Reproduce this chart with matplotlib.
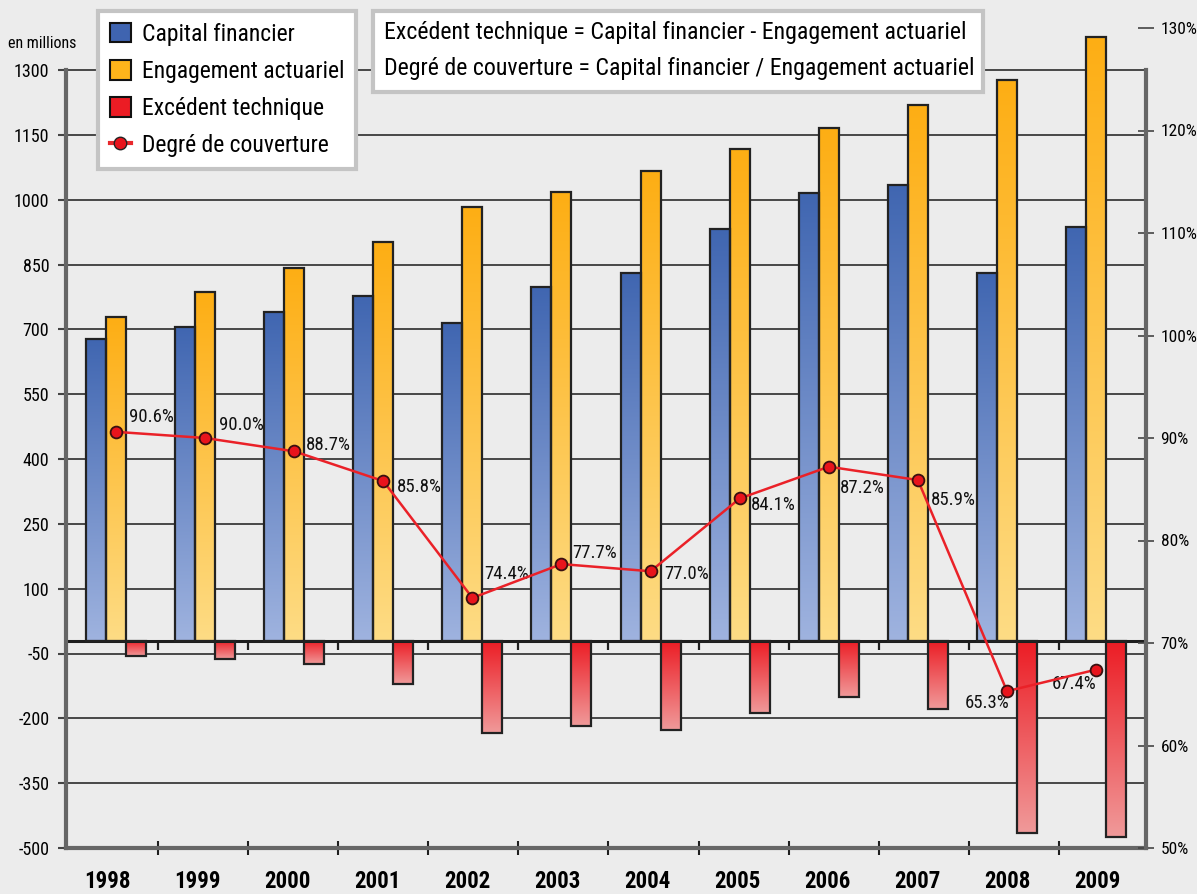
import numpy as np
import matplotlib.pyplot as plt
from matplotlib.patches import Patch, Rectangle
from matplotlib.lines import Line2D
from matplotlib.colors import LinearSegmentedColormap

plt.rcParams['font.family'] = ['Roboto Condensed', 'Liberation Sans Narrow',
                               'DejaVu Sans Condensed', 'Roboto', 'DejaVu Sans']

# data (en millions, on the printed left scale)
years = ['1998', '1999', '2000', '2001', '2002', '2003',
         '2004', '2005', '2006', '2007', '2008', '2009']
capital = [678, 705, 740, 777, 715, 798, 830, 932, 1015, 1034, 830, 937]
engagement = [728, 786, 842, 902, 983, 1018, 1066, 1117, 1166, 1219, 1277, 1376]
excedent = [-56, -63, -74, -121, -234, -218, -227, -188, -151, -178, -465, -475]
couverture = [90.6, 90.0, 88.7, 85.8, 74.4, 77.7, 77.0, 84.1, 87.2, 85.9, 65.3, 67.4]
left_ticks = list(range(-500, 1301, 150))
right_ticks = list(range(50, 131, 10))

BASE = -20          # category axis crosses the value axis here
BG = '#ececec'

# label offsets in pixels (dx, dy) and alignment for the percentages
label_offsets = [(13, 15), (14, 13), (12, 6), (14, -6), (12, 24), (11, 11),
                 (14, -3), (11, -7), (11, -21), (13, -20), (2, -12), (0, -14)]
label_align = ['left'] * 10 + ['right'] * 2


def gradient_bars(ax, bars, top_color, bottom_color):
    """Fill every bar with a vertical gradient clipped to the bar."""
    cmap = LinearSegmentedColormap.from_list('g', [bottom_color, top_color])
    grad = np.linspace(0, 1, 256).reshape(-1, 1)
    for b in bars:
        x0, y0 = b.get_xy()
        w, h = b.get_width(), b.get_height()
        lo, hi = min(y0, y0 + h), max(y0, y0 + h)
        im = ax.imshow(grad, cmap=cmap, aspect='auto', origin='lower',
                       extent=(x0, x0 + w, lo, hi), zorder=2,
                       interpolation='bilinear')
        im.set_clip_path(b)


W, H = 1197, 894
fig = plt.figure(figsize=(W / 100, H / 100), dpi=100, facecolor=BG)
ax = fig.add_axes([66 / W, 1 - 848 / H, (1146 - 66) / W, (848 - 28) / H])
ax.set_facecolor(BG)

x = np.arange(len(years))
bw = 0.2245
edge = dict(facecolor='none', edgecolor='#222222', linewidth=1.6, zorder=3)

b1 = ax.bar(x - bw, np.array(capital) - BASE, bw, bottom=BASE, **edge)
b2 = ax.bar(x, np.array(engagement) - BASE, bw, bottom=BASE, **edge)
b3 = ax.bar(x + bw, np.array(excedent) - BASE, bw, bottom=BASE, **edge)
gradient_bars(ax, b1, '#4066b1', '#9fb3df')
gradient_bars(ax, b2, '#fdae14', '#fedc85')
gradient_bars(ax, b3, '#ec1c24', '#f09a9a')

# category boundaries (slightly wider spacing than the bar groups)
bounds = 0.471 + np.arange(len(years) - 1) * 1.0112
label_pos = x * 1.0101 - 0.101

# category axis line through the chart
ax.axhline(BASE, color='#1e1e1e', lw=2.2, zorder=2.5)
ax.vlines(bounds, BASE - 23, BASE, color='#1e1e1e', lw=1.6, zorder=2.5)

top_val = 1300 + 42 / (778 / 1800)
ax.set_ylim(-500, top_val)
ax.set_xlim(-0.561, 11.56)

ax.set_yticks(left_ticks)
ax.set_yticklabels([str(t) for t in left_ticks])
ax.yaxis.grid(True, color='#2b2b2b', lw=1.2)
ax.set_axisbelow(True)
ax.tick_params(axis='y', direction='out', length=6, width=1.5,
               color='#444444', pad=6, labelsize=13)

ax.set_xticks(label_pos)
ax.set_xticklabels(years, fontweight='bold', fontsize=16.5)
ax.tick_params(axis='x', which='major', length=0, pad=16)
ax.set_xticks(bounds, minor=True)
ax.tick_params(axis='x', which='minor', direction='inout', length=10,
               width=1.5, color='#1e1e1e')

for s in ['top', 'right']:
    ax.spines[s].set_visible(False)
for s in ['left', 'bottom']:
    ax.spines[s].set_color('#666666')
    ax.spines[s].set_linewidth(3)
ax.spines['left'].set_bounds(-500, 1300)

# coverage ratio on the right scale
ax2 = ax.twinx()
ax2.set_ylim(50, 130)
ax2.plot(x, couverture, color='#ea2128', lw=1.8, marker='o', ms=8.5,
         mfc='#e8141c', mec='#3a1010', mew=1.3, zorder=5)
for i, v in enumerate(couverture):
    dx, dy = label_offsets[i]
    ax2.annotate(f'{v:.1f}%', (x[i], v), xytext=(dx, dy),
                 textcoords='offset pixels', ha=label_align[i], va='center',
                 fontsize=13.5, color='#111111')

ax2.set_yticks(right_ticks)
ax2.set_yticklabels([f'{t}%' for t in right_ticks])
ax2.tick_params(axis='y', direction='inout', length=11, width=1.2,
                color='#444444', pad=5, labelsize=12.5)
for s in ['top', 'left', 'bottom']:
    ax2.spines[s].set_visible(False)
ax2.spines['right'].set_color('#666666')
ax2.spines['right'].set_linewidth(3)
ax2.spines['right'].set_bounds(50, 130 - 42 / 10.25)

fig.text(8 / W, 1 - 44 / H, 'en millions', fontsize=11.5, va='center', ha='left')

handles = [
    Patch(facecolor='#3f64b0', edgecolor='#111111', lw=1.5, label='Capital financier'),
    Patch(facecolor='#fdb41b', edgecolor='#111111', lw=1.5, label='Engagement actuariel'),
    Patch(facecolor='#ec1c24', edgecolor='#111111', lw=1.5, label='Excédent technique'),
    Line2D([], [], color='#e8282c', lw=3, marker='o', ms=9, mfc='#e8141c',
           mec='#222222', label='Degré de couverture'),
]
leg = fig.legend(handles=handles, loc='upper left',
                 bbox_to_anchor=(98 / W, 1 - 11 / H), borderaxespad=0,
                 fontsize=17, frameon=True, fancybox=False, framealpha=1,
                 facecolor='white', edgecolor='#c4c4c4', borderpad=0.5,
                 labelspacing=0.6, handlelength=0.9, handleheight=0.9,
                 handletextpad=0.45)
leg.get_frame().set_linewidth(3)

fig.add_artist(Rectangle((373 / W, 1 - 92 / H), (983 - 373) / W, 81 / H,
                         transform=fig.transFigure, facecolor='white',
                         edgecolor='#c4c4c4', lw=3))
fig.text(384 / W, 1 - 33 / H,
         'Excédent technique = Capital financier - Engagement actuariel',
         fontsize=17.2, va='center', ha='left')
fig.text(384 / W, 1 - 68 / H,
         'Degré de couverture = Capital financier / Engagement actuariel',
         fontsize=17.2, va='center', ha='left')

fig.savefig('out.png', dpi=100, facecolor=BG)
